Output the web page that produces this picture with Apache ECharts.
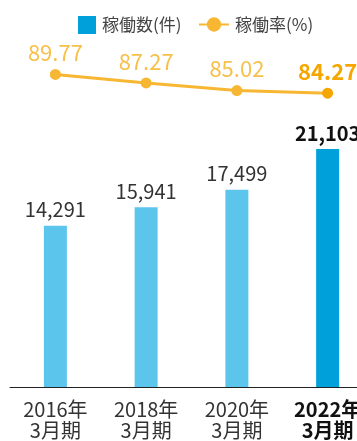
<!DOCTYPE html>
<html><head><meta charset="utf-8">
<script src="https://cdn.jsdelivr.net/npm/echarts@6/dist/echarts.min.js"></script>
<style>html,body{margin:0;padding:0;background:#fff}#c{width:357px;height:441px}</style>
</head><body><div id="c"></div>
<script>
const categories = ['2016年\n3月期', '2018年\n3月期', '2020年\n3月期', '2022年\n3月期'];
const counts = [14291, 15941, 17499, 21103];
const rates = [89.77, 87.27, 85.02, 84.27];
const countName = '稼働数(件)';
const rateName = '稼働率(%)';

const FONT = '"Noto Sans CJK JP", "Noto Sans", sans-serif';
const last = categories.length - 1;
const legendText = { fontSize: 17, color: '#444', fontFamily: FONT, padding: [0, 0, 0, 1] };

const chart = echarts.init(document.getElementById('c'));
chart.setOption({
  animation: false,
  textStyle: { fontFamily: FONT },
  legend: [
    {
      top: 11, left: 73, itemGap: 6,
      textStyle: legendText,
      data: [{ name: countName, icon: 'rect', itemStyle: { color: '#00a0da' } }],
      itemWidth: 18, itemHeight: 18
    },
    {
      top: 11, left: 193,
      textStyle: legendText,
      data: [{ name: rateName }],
      itemWidth: 30, itemHeight: 18
    }
  ],
  grid: { left: 10, top: 60, width: 363, height: 327, containLabel: false, outerBoundsMode: 'none' },
  xAxis: {
    type: 'category',
    data: categories,
    axisLine: { lineStyle: { color: '#222', width: 1 } },
    axisTick: { show: false },
    axisLabel: {
      margin: 12,
      interval: 0,
      lineHeight: 21,
      fontSize: 20,
      color: '#333',
      fontFamily: FONT,
      formatter: (v, i) => i === last ? '{b|' + v.split('\n').join('}\n{b|') + '}' : v,
      rich: { b: { fontWeight: 'bold', fontSize: 20, lineHeight: 21, color: '#111', fontFamily: FONT } }
    }
  },
  yAxis: [
    { type: 'value', min: 0, max: 29000, show: false, splitLine: { show: false } },
    { type: 'value', min: -2, max: 94, show: false, splitLine: { show: false } }
  ],
  series: [
    {
      name: countName, type: 'bar', barWidth: 23,
      data: counts.map((v, i) => ({
        value: v,
        itemStyle: { color: i === last ? '#00a0da' : '#5bc5eb' },
        label: i === last ? { fontWeight: 'bold', color: '#111' } : {}
      })),
      itemStyle: { color: '#5bc5eb' },
      label: {
        show: true, position: 'top', distance: 6,
        fontSize: 20, color: '#333', fontFamily: FONT,
        formatter: p => p.value.toLocaleString('en-US')
      }
    },
    {
      name: rateName, type: 'line', yAxisIndex: 1,
      symbol: 'circle', symbolSize: 11,
      lineStyle: { color: '#f7b733', width: 3 },
      itemStyle: { color: '#f7b733' },
      data: rates.map((v, i) => ({
        value: v,
        itemStyle: { color: i === last ? '#f5a700' : '#f7b733' },
        label: i === last ? { fontWeight: 'bold', color: '#f5a700' } : {}
      })),
      label: {
        show: true, position: 'top', distance: 5,
        fontSize: 22, color: '#f7c04b', fontFamily: FONT,
        formatter: p => p.value.toFixed(2)
      }
    }
  ]
});
</script></body></html>
